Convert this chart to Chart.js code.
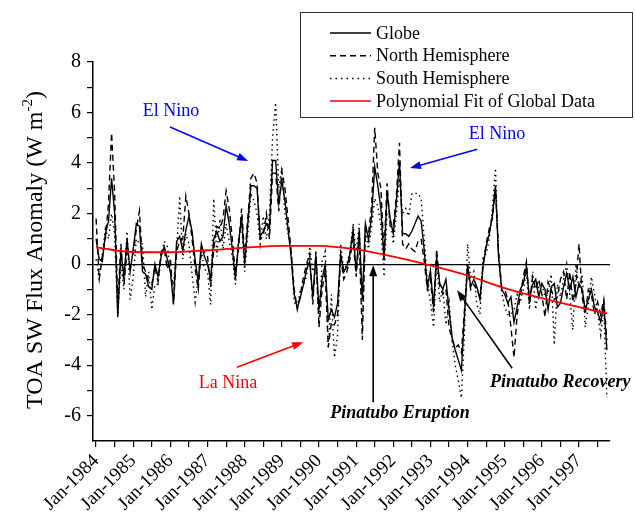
<!DOCTYPE html>
<html><head><meta charset="utf-8">
<script src="https://cdn.jsdelivr.net/npm/chart.js@4.4.0/dist/chart.umd.min.js"></script>
<style>html,body{margin:0;padding:0;background:#fff}</style>
</head><body>
<canvas id="c" width="635" height="527" style="display:block;width:635px;height:527px"></canvas>
<script>
// ---- DATA (monthly anomalies, W m-2; index 0 = Jan-1984) ----
const yearLabels = ['Jan-1984','Jan-1985','Jan-1986','Jan-1987','Jan-1988','Jan-1989','Jan-1990',
  'Jan-1991','Jan-1992','Jan-1993','Jan-1994','Jan-1995','Jan-1996','Jan-1997'];
const xTickMonths = [0,6,12,18,24,30,36,42,48,54,60,66,72,78,84,90,96,102,108,114,120,126,132,138,144,150,156,162];
const yTickValues = [-6,-5,-4,-3,-2,-1,0,1,2,3,4,5,6,7,8];
const yTickLabels = ['-6','','-4','','-2','','0','','2','','4','','6','','8'];

const globe = [
  1.0, 0.2, 0.1, 1.2, 1.7, 3.4, 2.0, -2.1, 0.5, -0.5, 1.0, -0.3,
  0.6, 1.6, 1.5, -0.3, -0.4, -0.9, -1.0, 0.0, -0.5, 0.3, 0.7, 0.2,
  -0.3, -1.55, 0.9, 1.1, 0.55, 1.35, 1.9, 1.3, 0.15, -0.7, 0.8, 0.3,
  0.0, -0.6, 1.0, 1.3, 0.9, 1.1, 2.3, 1.6, 0.6, -0.6, 0.8, 1.9,
  0.0, 1.6, 3.1, 3.1, 3.0, 1.1, 1.3, 1.6, 1.4, 4.1, 4.1, 2.4,
  3.3, 2.5, 1.4, 0.3, -1.2, -1.75, -1.3, -0.8, -0.2, 0.1, -1.3, 0.35,
  -1.8, -0.6, 0.0, -2.2, -1.8, -2.1, -1.55, 0.4, -0.3, -0.1, 0.4, 1.35,
  -0.3, 1.35, -1.4, 1.6, 0.95, 1.9, 3.85, 3.1, 2.2, 0.15, 2.8, 1.8,
  1.2, 2.5, 4.05, 1.2, 1.2, 1.1, 1.3, 1.6, 1.9, 1.7, 0.55, -0.9,
  -0.25, -1.7, 0.3, -0.77, -1.0, -0.6, -1.8, -2.9, -3.4, -3.8, -4.2, -2.0,
  0.0, -0.9, -0.6, -0.9, -1.4, -0.1, 0.7, 1.2, 1.9, 3.1, 0.3, -1.0,
  -1.2, -1.55, -1.3, -2.3, -1.7, -1.0, -0.77, -0.1, -1.4, -0.8, -0.6, -1.3,
  -0.77, -1.0, -1.8, -0.9, -0.77, -1.7, -1.55, -0.9, -0.37, -1.0, -0.5, -1.3,
  -0.77, -1.0, -1.8, -1.4, -1.0, -1.7, -1.9, -2.3, -1.55, -3.4
];
const north = [
  1.8, -0.6, 0.3, 1.0, 2.4, 5.2, 2.8, -1.6, 0.8, -0.8, 0.5, 0.4,
  0.4, 1.4, 2.1, 0.0, -0.3, -0.7, -0.8, -0.1, -0.7, 0.5, 0.6, -0.2,
  0.2, -1.6, 0.5, 0.9, 1.0, 2.7, 2.0, 1.0, -0.2, -1.0, 0.6, 0.5,
  0.3, -0.9, 0.6, 1.5, 1.4, 1.8, 2.9, 2.2, 1.0, -0.4, 0.6, 2.2,
  0.3, 1.8, 3.4, 3.6, 3.2, 1.0, 1.1, 2.0, 1.0, 3.6, 3.6, 2.1,
  3.7, 3.0, 1.8, 0.5, -1.0, -1.8, -1.2, -0.5, 0.0, 0.4, -1.6, 0.5,
  -2.5, -1.0, -0.3, -3.3, -2.3, -2.4, -2.0, 0.3, -0.6, -0.3, 0.2, 1.0,
  -0.5, 1.0, -3.0, 1.4, 1.2, 2.3, 5.4, 3.6, 3.0, 0.4, 3.2, 1.5,
  1.5, 2.7, 4.8, 0.8, 0.6, 0.8, 0.6, 0.5, 0.9, 1.0, 0.1, -1.0,
  -0.6, -1.9, 0.6, -0.9, -1.2, -1.0, -2.5, -3.0, -3.3, -3.2, -3.5, -1.8,
  -0.2, -1.0, -0.8, -1.0, -1.3, 0.0, 0.8, 1.4, 1.8, 3.0, 0.5, -0.9,
  -1.0, -1.4, -2.5, -3.7, -2.0, -1.3, -0.5, 0.1, -1.6, -0.5, -1.0, -0.6,
  -1.2, -2.1, -0.7, -1.0, -1.4, -1.3, -0.6, -0.3, -1.4, -0.3, -1.5, -0.8,
  0.8, -1.3, -2.0, -1.0, -1.2, -2.0, -1.5, -2.0, -1.4, -3.0
];
const south = [
  0.2, -0.6, 0.4, 1.4, 1.0, 2.0, 1.2, -2.0, 0.0, -1.0, 1.3, -1.4,
  -0.5, 1.0, 0.8, 0.8, -1.3, -0.3, -1.8, -0.8, -0.8, 0.3, 0.9, 0.7,
  -0.3, -0.8, 0.5, 2.7, 0.2, 1.2, 0.8, -0.4, -1.5, -0.5, 0.5, -0.2,
  -0.3, -1.6, 2.6, 0.3, 1.8, 0.6, 1.6, 0.9, 0.3, -0.8, 1.0, 1.6,
  -0.3, 1.2, 2.8, 2.5, 2.0, 0.8, 1.9, 1.0, 2.0, 5.0, 6.4, 3.0,
  3.8, 2.0, 1.2, 0.5, -1.5, -1.7, -1.0, -0.8, -0.5, 0.7, -0.3, 0.0,
  -2.3, 0.1, 0.5, -3.3, -1.2, -3.7, -2.8, 0.8, -0.3, 0.0, 0.5, 1.6,
  0.5, 1.6, -2.5, 1.3, 0.6, 1.5, 2.6, 2.3, 1.5, -0.5, 2.0, 1.8,
  0.8, 2.0, 3.4, 2.0, 2.2, 1.9, 2.8, 2.8, 2.8, 2.6, 1.0, -0.7,
  -1.5, -2.5, 0.1, -1.5, -1.0, -2.4, -1.5, -3.0, -4.0, -4.6, -5.3, -2.7,
  0.8, -0.6, -0.3, -1.6, -2.0, 0.3, 0.4, 1.0, 2.2, 3.8, 0.3, -1.1,
  -1.7, -2.0, -2.0, -1.8, -1.2, -1.5, -1.0, -0.3, -1.8, -0.3, -1.8, -0.9,
  -0.8, -1.3, -1.2, -0.4, -3.2, -0.8, -1.3, -0.6, 0.0, -1.2, -2.6, 0.0,
  -1.0, -0.4, -2.5, -1.6, -0.5, -1.2, -1.9, -2.8, -1.8, -5.3
];
const fitMonths = [0, 12, 24, 36, 48, 60, 72, 84, 96, 108, 120, 132, 144, 156, 165];
const fitValues = [0.66, 0.48, 0.47, 0.55, 0.65, 0.72, 0.72, 0.58, 0.30, -0.05, -0.45, -0.95, -1.35, -1.70, -1.95];

// ---- annotations (data coordinates: [month, value]) ----
const SERIF = '"Liberation Serif", "Times New Roman", serif';
const noteTexts = [
  {text: 'El Nino', color: '#0000ff', font: '18px ' + SERIF, at: [24.2, 6.06]},
  {text: 'El Nino', color: '#0000ff', font: '18px ' + SERIF, at: [129.5, 5.15]},
  {text: 'La Nina', color: '#ff0000', font: '18px ' + SERIF, at: [42.6, -4.71]},
  {text: 'Pinatubo Eruption', color: '#000000', font: 'italic bold 18px ' + SERIF, at: [98.2, -5.90]},
  {text: 'Pinatubo Recovery', color: '#000000', font: 'italic bold 18px ' + SERIF, at: [149.9, -4.67]}
];
const noteArrows = [
  {from: [23.9, 5.43], to: [49.1, 4.08], color: '#0000ff'},
  {from: [123.1, 4.55], to: [101.4, 3.80], color: '#0000ff'},
  {from: [45.5, -4.08], to: [66.9, -3.09], color: '#ff0000'},
  {from: [89.5, -5.47], to: [89.5, -0.04], color: '#000000'},
  {from: [134.4, -4.12], to: [116.6, -1.03], color: '#000000'}
];
const legendItems = [
  {text: 'Globe', color: '#000', dash: []},
  {text: 'North Hemisphere', color: '#000', dash: [6, 4]},
  {text: 'South Hemisphere', color: '#000', dash: [1.5, 4]},
  {text: 'Polynomial Fit of Global Data', color: '#ff0000', dash: []}
];

function pts(arr) { return arr.map((v, i) => ({x: i, y: v})); }

function drawArrow(ctx, p0, p1, color) {
  const ang = Math.atan2(p1[1] - p0[1], p1[0] - p0[0]);
  const L = 11, W = 4;
  ctx.strokeStyle = color; ctx.fillStyle = color; ctx.lineWidth = 1.6;
  ctx.beginPath();
  ctx.moveTo(p0[0], p0[1]);
  ctx.lineTo(p1[0] - Math.cos(ang) * L * 0.8, p1[1] - Math.sin(ang) * L * 0.8);
  ctx.stroke();
  ctx.beginPath();
  ctx.moveTo(p1[0], p1[1]);
  ctx.lineTo(p1[0] - L * Math.cos(ang) + W * Math.sin(ang), p1[1] - L * Math.sin(ang) - W * Math.cos(ang));
  ctx.lineTo(p1[0] - L * Math.cos(ang) - W * Math.sin(ang), p1[1] - L * Math.sin(ang) + W * Math.cos(ang));
  ctx.closePath();
  ctx.fill();
}

const decorPlugin = {
  id: 'decor',
  afterDatasetsDraw(chart) {
    const ctx = chart.ctx, xs = chart.scales.x, ys = chart.scales.y;
    const px = p => [xs.getPixelForValue(p[0]), ys.getPixelForValue(p[1])];
    ctx.save();
    noteArrows.forEach(a => drawArrow(ctx, px(a.from), px(a.to), a.color));
    ctx.textAlign = 'center'; ctx.textBaseline = 'middle';
    noteTexts.forEach(t => {
      const p = px(t.at);
      ctx.font = t.font; ctx.fillStyle = t.color;
      ctx.fillText(t.text, p[0], p[1]);
    });
    ctx.restore();
  },
  afterDraw(chart) {
    const ctx = chart.ctx;
    ctx.save();
    // legend box
    ctx.strokeStyle = '#333'; ctx.lineWidth = 1;
    ctx.strokeRect(300.5, 12.5, 332, 105);
    ctx.font = '18px ' + SERIF; ctx.textAlign = 'left'; ctx.textBaseline = 'middle';
    legendItems.forEach((it, i) => {
      const y = 33 + i * 22.7;
      ctx.strokeStyle = it.color; ctx.lineWidth = 1.5; ctx.setLineDash(it.dash);
      ctx.beginPath(); ctx.moveTo(330, y); ctx.lineTo(371, y); ctx.stroke();
      ctx.setLineDash([]);
      ctx.fillStyle = '#000';
      ctx.fillText(it.text, 376, y + 1);
    });
    // y axis title with superscript
    ctx.translate(33, 250); ctx.rotate(-Math.PI / 2);
    ctx.textAlign = 'left'; ctx.textBaseline = 'alphabetic'; ctx.fillStyle = '#000';
    const main = 'TOA SW Flux Anomaly (W m', sup = '-2', end = ')';
    ctx.font = '24px ' + SERIF; const w1 = ctx.measureText(main).width; const w3 = ctx.measureText(end).width;
    ctx.font = '15px ' + SERIF; const w2 = ctx.measureText(sup).width;
    const sx = -(w1 + w2 + w3) / 2;
    ctx.font = '24px ' + SERIF; ctx.fillText(main, sx, 9);
    ctx.font = '15px ' + SERIF; ctx.fillText(sup, sx + w1, -1);
    ctx.font = '24px ' + SERIF; ctx.fillText(end, sx + w1 + w2, 9);
    ctx.restore();
  }
};

new Chart(document.getElementById('c').getContext('2d'), {
  type: 'line',
  data: {
    datasets: [
      {label: 'Polynomial Fit of Global Data', data: fitMonths.map((m, i) => ({x: m, y: fitValues[i]})),
        borderColor: '#ff0000', borderWidth: 1.8, pointRadius: 0, cubicInterpolationMode: 'monotone', order: 0},
      {label: 'Globe', data: pts(globe), borderColor: '#000', borderWidth: 1.4, pointRadius: 0, order: 1},
      {label: 'North Hemisphere', data: pts(north), borderColor: '#000', borderWidth: 1.4, borderDash: [6, 4], pointRadius: 0, order: 2},
      {label: 'South Hemisphere', data: pts(south), borderColor: '#000', borderWidth: 1.4, borderDash: [1.5, 3.5], pointRadius: 0, order: 3}
    ]
  },
  options: {
    responsive: false, animation: false, devicePixelRatio: 1,
    layout: {padding: {top: 62, right: 25, left: 0, bottom: 0}},
    plugins: {legend: {display: false}, tooltip: {enabled: false}, title: {display: false}},
    scales: {
      x: {
        type: 'linear', min: -1, max: 166,
        afterBuildTicks: s => { s.ticks = xTickMonths.map(v => ({value: v})); },
        afterFit: s => { s.height = 86; },
        ticks: {
          autoSkip: false, minRotation: 45, maxRotation: 45, color: '#000', padding: 3,
          font: {family: 'Liberation Serif', size: 19},
          callback: v => (v % 12 === 0 ? yearLabels[v / 12] : '')
        },
        grid: {display: true, drawOnChartArea: false, color: '#000', tickColor: '#000', tickLength: 6, lineWidth: 1.2},
        border: {display: true, color: '#000', width: 1.5}
      },
      y: {
        min: -7, max: 8,
        afterBuildTicks: s => { s.ticks = yTickValues.map(v => ({value: v})); },
        afterFit: s => { s.width = 93; },
        ticks: {
          autoSkip: false, color: '#000', padding: 6,
          font: {family: 'Liberation Serif', size: 20},
          callback: (v, i) => yTickLabels[yTickValues.indexOf(v)]
        },
        grid: {
          color: c => (c.tick && c.tick.value === 0 ? '#000' : 'rgba(0,0,0,0)'),
          tickColor: '#000', tickLength: 6, lineWidth: 1.2
        },
        border: {display: true, color: '#000', width: 1.5}
      }
    }
  },
  plugins: [decorPlugin]
});
</script>
</body></html>
